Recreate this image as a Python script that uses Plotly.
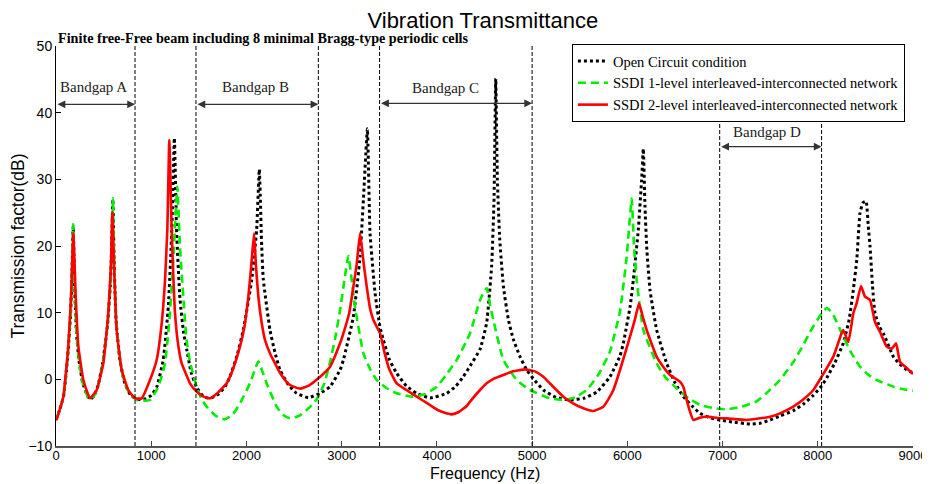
import plotly.graph_objects as go

# ---------------- data ----------------
open_freq = [0, 40, 80, 120, 150, 165, 180, 195, 215, 240, 280, 330, 360, 400, 440, 490, 540, 570, 585, 597, 610, 630, 670, 720, 780, 850, 920, 1000, 1057, 1127, 1180, 1215, 1243, 1267, 1302, 1340, 1372, 1420, 1477, 1550, 1617, 1700, 1780, 1827, 1900, 1967, 2055, 2107, 2135, 2160, 2177, 2247, 2300, 2352, 2440, 2527, 2650, 2773, 2878, 2983, 3018, 3123, 3193, 3228, 3270, 3298, 3351, 3400, 3438, 3500, 3578, 3680, 3788, 3928, 4103, 4200, 4278, 4348, 4453, 4523, 4575, 4600, 4618, 4635, 4660, 4698, 4750, 4803, 4870, 4943, 5030, 5118, 5250, 5400, 5550, 5680, 5818, 5923, 5958, 6030, 6063, 6115, 6150, 6168, 6185, 6203, 6238, 6308, 6413, 6500, 6588, 6680, 6763, 6873, 6973, 7100, 7288, 7393, 7500, 7603, 7743, 7850, 7953, 8040, 8094, 8180, 8268, 8330, 8373, 8410, 8443, 8475, 8507, 8530, 8549, 8575, 8601, 8650, 8689, 8794, 8860, 8934, 9000]
open_db = [-6.0, -4.5, -2.5, 3, 9, 14, 23.0, 14, 7, 3, -0.5, -2.5, -3.0, -2.5, -1, 2.4, 8, 14, 20, 27.0, 18, 9, 3, -0.5, -2.3, -3.0, -3.0, -2.4, -1.2, 3.0, 11, 22, 36.2, 22, 12, 7, 4.5, 1.0, -1.2, -2.6, -2.85, -2.3, -1.0, 0.4, 3.5, 7.4, 14.9, 22.4, 31.5, 20, 15, 7.4, 4, 1.4, -0.8, -2.1, -2.75, -2.1, -1.1, 1.4, 2.9, 9.4, 18.4, 26.9, 37.6, 21.9, 12.9, 8, 5.9, 3, 0.9, -1.0, -2.1, -2.8, -2.1, -1.0, 0.4, 2.0, 4.5, 8.5, 17, 27, 45.1, 30, 21, 14, 9, 6.0, 3.5, 1.4, -0.2, -1.6, -2.7, -3.1, -2.8, -1.9, 0.4, 3.5, 5.4, 11, 14.9, 22.4, 29.9, 34.6, 26, 19.9, 13.4, 7.4, 2.4, -0.5, -2.6, -4.0, -5.1, -5.8, -6.1, -6.4, -6.7, -6.6, -6.1, -5.5, -4.7, -3.7, -2.4, -1.0, 0.2, 2.5, 5.4, 9, 13.4, 18, 24.9, 26.5, 26.7, 23, 19.9, 14, 9.9, 7.8, 6.9, 3.4, 2.3, 1.4, 1.0]

ssdi1_freq = [0, 40, 80, 120, 150, 165, 180, 195, 215, 240, 280, 330, 360, 400, 440, 490, 540, 570, 585, 597, 610, 630, 670, 720, 780, 850, 920, 987, 1057, 1100, 1145, 1197, 1239, 1274, 1302, 1337, 1370, 1407, 1477, 1530, 1582, 1680, 1775, 1860, 1932, 2037, 2090, 2125, 2160, 2212, 2317, 2390, 2457, 2550, 2632, 2700, 2755, 2820, 2878, 2930, 2983, 3030, 3070, 3105, 3140, 3228, 3300, 3368, 3470, 3578, 3750, 3880, 3998, 4100, 4208, 4348, 4453, 4523, 4560, 4593, 4698, 4838, 4978, 5188, 5345, 5450, 5573, 5700, 5818, 5923, 5993, 6046, 6070, 6098, 6168, 6308, 6400, 6518, 6640, 6763, 6900, 7043, 7200, 7358, 7450, 7603, 7743, 7850, 7918, 8041, 8094, 8150, 8268, 8350, 8443, 8530, 8619, 8794, 8900, 9000]
ssdi1_db = [-6.0, -4.5, -2.5, 3, 9, 14, 23.3, 14, 7, 3, -0.5, -2.5, -3.0, -2.5, -1, 2.4, 8, 14, 20, 27.2, 18, 9, 3, -0.5, -2.3, -3.1, -3.2, -3.1, -1.6, 0, 2.4, 9.9, 19.9, 28.9, 19.9, 12.4, 6, 2.6, -1.1, -3.0, -4.1, -5.5, -6.0, -5.2, -3.6, -0.6, 1.5, 2.7, 1.5, -0.6, -4.1, -5.4, -5.85, -5.5, -4.6, -3.7, -2.6, -0.5, 2.6, 6, 10.4, 15, 18.5, 15, 10.9, 3.9, 1.5, -0.1, -1.3, -2.1, -2.6, -2.2, -1.1, 0.7, 2.9, 6.9, 11.9, 13.7, 11, 8.9, 2.9, -0.1, -1.6, -2.85, -3.1, -2.7, -1.6, 0.8, 4.2, 10.2, 18.4, 27.1, 20, 14.9, 7.4, 2.4, 0.3, -1.35, -2.8, -3.85, -4.3, -4.5, -4.1, -3.3, -2.2, -0.1, 2.6, 5.2, 7.1, 9.9, 10.7, 10.0, 6.4, 4.0, 1.9, 0.7, -0.1, -1.1, -1.5, -1.7]

ssdi2_freq = [0, 7, 40, 77, 129, 158, 182, 207, 235, 287, 357, 427, 497, 549, 578, 591, 609, 637, 690, 759, 830, 900, 987, 1057, 1110, 1145, 1169, 1190, 1215, 1250, 1285, 1320, 1365, 1407, 1477, 1550, 1617, 1700, 1792, 1860, 1932, 1980, 2020, 2050, 2080, 2100, 2125, 2160, 2195, 2250, 2300, 2335, 2400, 2457, 2562, 2660, 2755, 2878, 2983, 3018, 3080, 3123, 3160, 3193, 3230, 3263, 3300, 3333, 3403, 3450, 3500, 3578, 3680, 3788, 3900, 4008, 4100, 4155, 4230, 4313, 4348, 4453, 4523, 4600, 4698, 4800, 4925, 5030, 5118, 5200, 5328, 5430, 5538, 5643, 5748, 5800, 5853, 5923, 6028, 6080, 6123, 6160, 6203, 6308, 6380, 6448, 6553, 6590, 6606, 6650, 6693, 6750, 6833, 6950, 7043, 7253, 7393, 7500, 7603, 7743, 7850, 7953, 8041, 8163, 8250, 8268, 8321, 8373, 8408, 8454, 8496, 8549, 8601, 8654, 8724, 8777, 8822, 8864, 8934, 9000]
ssdi2_db = [-6.1, -6.0, -4.5, -2.6, 4.9, 12.4, 21.9, 12.4, 4.9, -0.1, -2.85, -1.6, 2.4, 9.9, 17.4, 25.1, 17.4, 7.4, 1.4, -1.6, -2.85, -2.85, -0.1, 2.9, 8.4, 14.9, 22.4, 35.9, 22.4, 9.9, 5, 2.4, 0.8, -0.6, -1.85, -2.6, -2.85, -2.0, -0.6, 1.6, 4.9, 8, 12.4, 17, 21.9, 17, 12.4, 8.5, 5.9, 3.8, 2.4, 1.4, 0.0, -0.85, -1.4, -0.9, 0.15, 1.9, 5.4, 6.9, 10, 13.9, 17.5, 21.9, 17.5, 13.9, 10.5, 8.9, 6.9, 4, 1.5, -0.6, -1.6, -2.6, -3.6, -4.6, -5.1, -5.25, -4.9, -4.0, -3.35, -1.6, -0.6, 0.1, 0.65, 1.2, 1.5, 1.2, 0.4, -0.8, -2.6, -3.6, -4.35, -4.75, -4.1, -3.0, -1.6, 1.4, 6.4, 9, 11.4, 9.5, 7.4, 3.4, 1.8, 0.65, -0.35, -1.2, -2.1, -4.5, -6.1, -5.8, -5.6, -5.8, -5.85, -6.1, -5.85, -5.6, -5.1, -4.1, -3.0, -1.6, 0.4, 3.4, 6.9, 7.4, 5.6, 9.9, 11.4, 14.0, 12.4, 11.9, 8.6, 7.1, 4.9, 4.6, 5.4, 2.6, 1.7, 0.8]

series_names = ["Open Circuit condition",
                "SSDI 1-level interleaved-interconnected network",
                "SSDI 2-level interleaved-interconnected network"]

gap_edges = [830, 1470, 2755, 3398, 5000, 6970, 8040]
gap_labels = ["Bandgap A", "Bandgap B", "Bandgap C", "Bandgap D"]
gap_from = [0, 1470, 3398, 6970]
gap_to = [830, 2755, 5000, 8040]
gap_arrow_y = [41.25, 41.25, 41.4, 34.9]
gap_label_x = [392, 2097, 4090, 7463]
gap_label_y = [43.8, 43.8, 43.7, 37.1]

x_ticks = [0, 1000, 2000, 3000, 4000, 5000, 6000, 7000, 8000, 9000]
y_ticks = [-10, 0, 10, 20, 30, 40, 50]

SANS = "Liberation Sans, Arial, sans-serif"
SERIF = "Liberation Serif, Times New Roman, serif"

fig = go.Figure()
fig.add_trace(go.Scatter(x=open_freq, y=open_db, mode="lines", name=series_names[0],
                         line=dict(color="black", width=3, dash="3px,3px", shape="spline", smoothing=0.4)))
fig.add_trace(go.Scatter(x=ssdi1_freq, y=ssdi1_db, mode="lines", name=series_names[1],
                         line=dict(color="#00ee00", width=2.6, dash="8px,5px", shape="spline", smoothing=0.4)))
fig.add_trace(go.Scatter(x=ssdi2_freq, y=ssdi2_db, mode="lines", name=series_names[2],
                         line=dict(color="#ff0000", width=2.6, shape="spline", smoothing=0.4)))

shapes = []
for xe in gap_edges:
    shapes.append(dict(type="line", xref="x", yref="y", x0=xe, x1=xe, y0=-10, y1=50,
                       line=dict(color="black", width=1, dash="4px,2px")))

annotations = []
for i in range(len(gap_labels)):
    annotations.append(dict(x=gap_to[i], y=gap_arrow_y[i], ax=gap_from[i], ay=gap_arrow_y[i],
                            xref="x", yref="y", axref="x", ayref="y", text="",
                            showarrow=True, arrowhead=2, arrowside="end+start",
                            arrowsize=1.3, arrowwidth=1.2, arrowcolor="#333333"))
    annotations.append(dict(x=gap_label_x[i], y=gap_label_y[i], xref="x", yref="y",
                            text=gap_labels[i], showarrow=False,
                            font=dict(family=SERIF, size=15, color="#222222")))

annotations.append(dict(x=0, xref="paper", y=1.02, yref="paper", xanchor="left", yanchor="middle",
                        text="<b>Finite free-Free beam including 8 minimal Bragg-type periodic cells</b>",
                        showarrow=False, font=dict(family=SERIF, size=14.2, color="black")))

# x-axis title placed under the tick labels
annotations.append(dict(x=0.5, xref="paper", y=-0.069, yref="paper", xanchor="center", yanchor="middle",
                        text="Frequency (Hz)", showarrow=False, borderpad=0,
                        font=dict(family=SANS, size=16, color="black")))

# the page adds an 8px body margin, so the figure is 8px smaller and shifted
fig.update_layout(
    width=922, height=476,
    margin=dict(l=48, r=17, t=38, b=38, autoexpand=False),
    paper_bgcolor="white", plot_bgcolor="white",
    title=dict(text="Vibration Transmittance", x=0.515, xanchor="center", y=0.975, yanchor="middle",
               font=dict(family=SANS, size=22, color="black")),
    xaxis=dict(range=[0, 9000], tickvals=x_ticks, showgrid=False, zeroline=False, automargin=False,
               showline=True, linecolor="#555555", linewidth=1.5, ticks="inside", ticklen=5,
               tickcolor="#444444", tickfont=dict(family=SANS, size=13, color="black"),
               ticklabeloverflow="allow", ticklabelstandoff=-3),
    yaxis=dict(range=[-10, 50], tickvals=y_ticks, showgrid=False, zeroline=False, automargin=False,
               showline=True, linecolor="black", linewidth=1, ticks="inside", ticklen=5,
               tickcolor="black", tickfont=dict(family=SANS, size=14, color="black"),
               title=dict(text="Transmission factor(dB)", font=dict(family=SANS, size=17.5, color="black"),
                          standoff=4)),
    legend=dict(x=0.602, y=1.005, xanchor="left", yanchor="top", bgcolor="white",
                bordercolor="black", borderwidth=1,
                font=dict(family=SERIF, size=14.5, color="black"), tracegroupgap=0),
    shapes=shapes, annotations=annotations,
)

fig.write_html("out.html")
